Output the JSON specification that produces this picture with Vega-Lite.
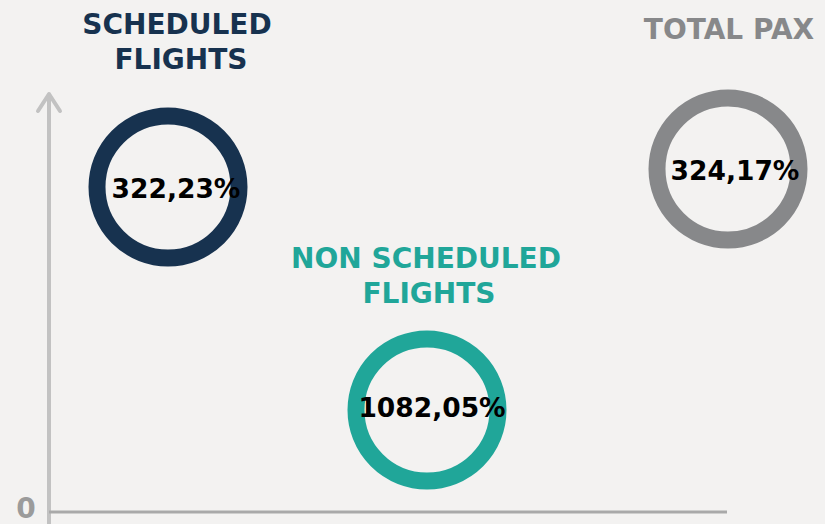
{
  "$schema": "https://vega.github.io/schema/vega-lite/v6.json",
  "width": 825,
  "height": 524,
  "padding": 0,
  "autosize": {"type": "none"},
  "background": "#f3f2f1",
  "config": {"view": {"stroke": null}, "axis": {"disable": true}},
  "datasets": {
    "rings": [
      {"name": "SCHEDULED FLIGHTS", "cx": 168, "cy": 187, "value": "322,23%", "tx": 176, "ty": 198},
      {"name": "NON SCHEDULED FLIGHTS", "cx": 427, "cy": 410, "value": "1082,05%", "tx": 432, "ty": 417},
      {"name": "TOTAL PAX", "cx": 728, "cy": 169, "value": "324,17%", "tx": 735, "ty": 180}
    ],
    "titles": [
      {"name": "SCHEDULED FLIGHTS", "line": "SCHEDULED", "tx": 177, "ty": 34},
      {"name": "SCHEDULED FLIGHTS", "line": "FLIGHTS", "tx": 181, "ty": 69},
      {"name": "NON SCHEDULED FLIGHTS", "line": "NON SCHEDULED", "tx": 426, "ty": 268},
      {"name": "NON SCHEDULED FLIGHTS", "line": "FLIGHTS", "tx": 429, "ty": 303},
      {"name": "TOTAL PAX", "line": "TOTAL PAX", "tx": 729, "ty": 39}
    ],
    "vaxis": [{"x": 49, "y": 94, "y2": 524}],
    "haxis": [{"x": 49, "x2": 727, "y": 512}],
    "arrow": [
      {"x": 38, "y": 111, "o": 1},
      {"x": 49, "y": 94, "o": 2},
      {"x": 60, "y": 111, "o": 3}
    ],
    "zero": [{"x": 26, "y": 518, "label": "0"}]
  },
  "layer": [
    {
      "data": {"name": "vaxis"},
      "mark": {"type": "rule", "color": "#c2c2c2", "strokeWidth": 4},
      "encoding": {
        "x": {"field": "x", "type": "quantitative", "scale": {"domain": [0, 825], "nice": false, "zero": false}},
        "y": {"field": "y", "type": "quantitative", "scale": {"domain": [0, 524], "reverse": true, "nice": false, "zero": false}},
        "y2": {"field": "y2"}
      }
    },
    {
      "data": {"name": "arrow"},
      "mark": {"type": "line", "color": "#c2c2c2", "strokeWidth": 4, "strokeCap": "round", "strokeJoin": "round"},
      "encoding": {
        "x": {"field": "x", "type": "quantitative"},
        "y": {"field": "y", "type": "quantitative"},
        "order": {"field": "o"}
      }
    },
    {
      "data": {"name": "haxis"},
      "mark": {"type": "rule", "color": "#a9a9a9", "strokeWidth": 3},
      "encoding": {
        "x": {"field": "x", "type": "quantitative"},
        "x2": {"field": "x2"},
        "y": {"field": "y", "type": "quantitative"}
      }
    },
    {
      "data": {"name": "zero"},
      "mark": {"type": "text", "font": "DejaVu Sans", "fontWeight": "bold", "fontSize": 28, "color": "#9b9b9b", "baseline": "alphabetic", "align": "center"},
      "encoding": {
        "x": {"field": "x", "type": "quantitative"},
        "y": {"field": "y", "type": "quantitative"},
        "text": {"field": "label"}
      }
    },
    {
      "data": {"name": "rings"},
      "mark": {"type": "point", "shape": "circle", "filled": false, "strokeWidth": 17, "size": 20164, "opacity": 1},
      "encoding": {
        "x": {"field": "cx", "type": "quantitative"},
        "y": {"field": "cy", "type": "quantitative"},
        "color": {"field": "name", "type": "nominal", "legend": null,
          "scale": {"domain": ["SCHEDULED FLIGHTS", "NON SCHEDULED FLIGHTS", "TOTAL PAX"], "range": ["#17324f", "#20a699", "#87888a"]}}
      }
    },
    {
      "data": {"name": "rings"},
      "mark": {"type": "text", "font": "DejaVu Sans", "fontWeight": "bold", "fontSize": 26.5, "color": "#000000", "baseline": "alphabetic", "align": "center"},
      "encoding": {
        "x": {"field": "tx", "type": "quantitative"},
        "y": {"field": "ty", "type": "quantitative"},
        "text": {"field": "value"}
      }
    },
    {
      "data": {"name": "titles"},
      "mark": {"type": "text", "font": "DejaVu Sans", "fontWeight": "bold", "fontSize": 28, "baseline": "alphabetic", "align": "center"},
      "encoding": {
        "x": {"field": "tx", "type": "quantitative"},
        "y": {"field": "ty", "type": "quantitative"},
        "text": {"field": "line"},
        "color": {"field": "name", "type": "nominal", "legend": null,
          "scale": {"domain": ["SCHEDULED FLIGHTS", "NON SCHEDULED FLIGHTS", "TOTAL PAX"], "range": ["#1a4260", "#20a699", "#7f7f7f"]}}
      }
    }
  ]
}
